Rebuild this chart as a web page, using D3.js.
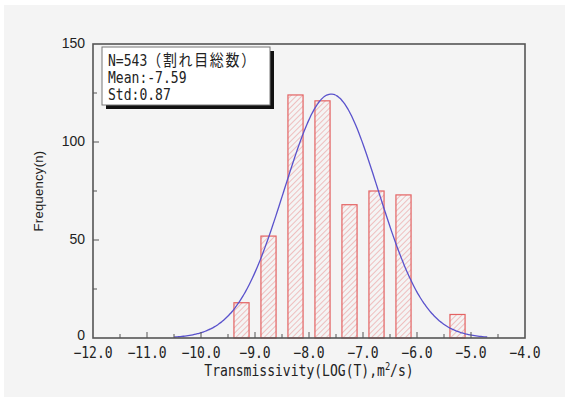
<!DOCTYPE html>
<html>
<head>
<meta charset="utf-8">
<script src="https://cdn.jsdelivr.net/npm/d3@7"></script>
<style>
  body { margin: 0; background: #fff; }
  svg text { fill: #222; }
  .mono { font-family: "DejaVu Sans Mono", "Noto Sans CJK JP", monospace; font-size: 15px; }
  .sans { font-family: "Liberation Sans", Arial, sans-serif; }
</style>
</head>
<body>
<div id="chart"></div>
<script>
// histogram bins (centre of bin, count)
var binCenters = [-9.25, -8.75, -8.25, -7.75, -7.25, -6.75, -6.25, -5.25];
var binCounts = [18, 52, 124, 121, 68, 75, 73, 12];
var binWidth = 0.5;

// fitted normal curve
var total = 543, mean = -7.59, std = 0.87;
var curveRange = [-10.5, -4.7];

var xTicks = [-12, -11, -10, -9, -8, -7, -6, -5, -4];
var yTicks = [0, 50, 100, 150];
var legendLines = ["N=543", "Mean:-7.59", "Std:0.87"];
var legendNote = "（割れ目総数）";

var W = 569, H = 401;
var margin = {top: 44, right: 44, bottom: 63, left: 93};
var width = W - margin.left - margin.right,
    height = H - margin.top - margin.bottom;

var svg = d3.select("#chart").append("svg")
    .attr("width", W)
    .attr("height", H);

svg.append("rect")
    .attr("x", 4).attr("y", 5)
    .attr("width", W - 8).attr("height", H - 9)
    .attr("fill", "#f4f4f4");

var defs = svg.append("defs");
var pat = defs.append("pattern")
    .attr("id", "hatch")
    .attr("patternUnits", "userSpaceOnUse")
    .attr("width", 4).attr("height", 4)
    .attr("patternTransform", "rotate(45)");
pat.append("line")
    .attr("x1", 0).attr("y1", 0).attr("x2", 0).attr("y2", 4)
    .attr("stroke", "#eb9a9a").attr("stroke-width", 1.2);

var g = svg.append("g")
    .attr("transform", "translate(" + margin.left + "," + margin.top + ")");

var x = d3.scaleLinear().domain([-12, -4]).range([0, width]);
var y = d3.scaleLinear().domain([0, 150]).range([height, 0]);

// condensed monospace text, mimics the narrow gothic font of the original
function mono(parent, px, py, anchor) {
    return parent.append("g")
        .attr("transform", "translate(" + px + "," + py + ") scale(0.87,1)")
        .append("text")
        .attr("class", "mono")
        .attr("text-anchor", anchor);
}

// bars
g.selectAll(".bar")
    .data(binCenters)
    .enter().append("rect")
    .attr("class", "bar")
    .attr("x", function (d) { return x(d - 0.14); })
    .attr("width", function (d) { return x(d + 0.14) - x(d - 0.14); })
    .attr("y", function (d, i) { return y(binCounts[i]); })
    .attr("height", function (d, i) { return height - y(binCounts[i]); })
    .attr("fill", "url(#hatch)")
    .attr("stroke", "#e46262")
    .attr("stroke-width", 1.2);

// normal curve
var pts = d3.range(0, 201).map(function (i) {
    var v = curveRange[0] + (curveRange[1] - curveRange[0]) * i / 200;
    var f = total * binWidth / (std * Math.sqrt(2 * Math.PI)) *
        Math.exp(-Math.pow(v - mean, 2) / (2 * std * std));
    return [v, f];
});
g.append("path")
    .datum(pts)
    .attr("fill", "none")
    .attr("stroke", "#5a52cc")
    .attr("stroke-width", 1.3)
    .attr("d", d3.line()
        .x(function (d) { return x(d[0]); })
        .y(function (d) { return y(d[1]); })
        .curve(d3.curveBasis));

// frame
g.append("rect")
    .attr("width", width).attr("height", height)
    .attr("fill", "none")
    .attr("stroke", "#555")
    .attr("stroke-width", 1.6);

// ticks (inward)
var xMinor = d3.range(-11.5, -4, 0.5);
g.selectAll(".xt")
    .data(xMinor)
    .enter().append("line")
    .attr("x1", function (d) { return x(d); })
    .attr("x2", function (d) { return x(d); })
    .attr("y1", height)
    .attr("y2", function (d) { return height - (d % 1 === 0 ? 6 : 4); })
    .attr("stroke", "#555");

var yMinor = d3.range(25, 150, 25);
g.selectAll(".yt")
    .data(yMinor)
    .enter().append("line")
    .attr("y1", function (d) { return y(d); })
    .attr("y2", function (d) { return y(d); })
    .attr("x1", 0)
    .attr("x2", function (d) { return d % 50 === 0 ? 6 : 4; })
    .attr("stroke", "#555");

// tick labels
xTicks.forEach(function (d) {
    mono(g, x(d), height + 20, "middle")
        .text(d3.format(".1f")(d).replace("-", "\u2212"));
});

g.selectAll(".yl")
    .data(yTicks)
    .enter().append("text")
    .attr("class", "sans")
    .attr("x", -8)
    .attr("y", function (d) { return y(d) + (d === 0 ? 2 : 4); })
    .attr("text-anchor", "end")
    .style("font-size", "14px")
    .text(function (d) { return d; });

// axis titles
mono(g, width / 2, height + 38, "middle")
    .html('Transmissivity(LOG(T),m<tspan dy="-6" font-size="10">2</tspan><tspan dy="6">/s)</tspan>');

g.append("text")
    .attr("class", "sans")
    .attr("transform", "translate(-50," + height / 2 + ") rotate(-90)")
    .attr("text-anchor", "middle")
    .style("font-size", "13px")
    .style("letter-spacing", "0.3px")
    .text("Frequency(n)");

// legend box with shadow
var lg = svg.append("g").attr("transform", "translate(102,47)");
lg.append("rect")
    .attr("x", 4).attr("y", 4)
    .attr("width", 168).attr("height", 58)
    .attr("fill", "#111");
lg.append("rect")
    .attr("width", 168).attr("height", 58)
    .attr("fill", "#fff")
    .attr("stroke", "#777")
    .attr("stroke-width", 1);
legendLines.forEach(function (d, i) {
    var t = mono(lg, 6, 19 + i * 17, "start").text(d);
    if (i === 0) {
        t.append("tspan")
            .style("font-family", "'Noto Sans CJK JP', sans-serif")
            .style("font-size", "16px")
            .style("letter-spacing", "2px")
            .text(legendNote);
    }
});
</script>
</body>
</html>
